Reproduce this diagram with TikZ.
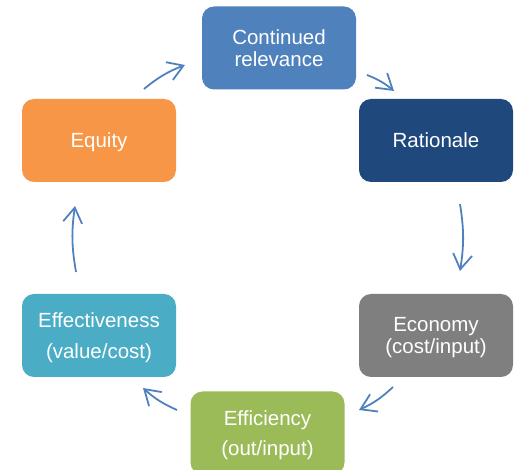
\documentclass[tikz,border=0pt]{standalone}
\usepackage{fontspec}
\setmainfont{Liberation Sans}
\usetikzlibrary{arrows.meta}
\definecolor{cRel}{HTML}{4F81BD}
\definecolor{cRat}{HTML}{1F497D}
\definecolor{cEco}{HTML}{7F7F7F}
\definecolor{cEffi}{HTML}{9BBB59}
\definecolor{cEffe}{HTML}{4BACC6}
\definecolor{cEqu}{HTML}{F79646}
\definecolor{cArr}{HTML}{4F81BD}
\tikzset{
  box/.style={rectangle, rounded corners=12pt, minimum width=154pt, minimum height=83pt,
    inner sep=0pt, text depth=0pt, text=white, align=center, font=\fontsize{20.5}{22.5}\selectfont},
  cyc/.style={draw=cArr, line width=1.8pt, -{Straight Barb[length=15pt,width=19pt,line width=1.8pt]}, bend left=9}
}
\begin{document}
\begin{tikzpicture}[x=1pt,y=-1pt]
\useasboundingbox (0,0) rectangle (515,470);
\clip (0,0) rectangle (515,470);
\node[box, fill=cRel] (rel) at (279,48) {Continued\\relevance};
\node[box, fill=cRat] (rat) at (436,140.5) {Rationale};
\node[box, fill=cEco] (eco) at (436,335.5) {Economy\\(cost/input)};
\node[box, fill=cEffi] (effi) at (267.5,433) {Efficiency\\[8pt](out/input)};
\node[box, fill=cEffe] (effe) at (99,335.5) {Effectiveness\\[8pt](value/cost)};
\node[box, fill=cEqu] (equ) at (99,140.5) {Equity};
\coordinate (a1s) at (144,89);  \coordinate (a1e) at (185,65);
\coordinate (a2s) at (367,75);  \coordinate (a2e) at (394,91);
\coordinate (a3s) at (460,204); \coordinate (a3e) at (460,271);
\coordinate (a4s) at (393,387); \coordinate (a4e) at (359,410);
\coordinate (a5s) at (177,410); \coordinate (a5e) at (143,388);
\coordinate (a6s) at (76,272);  \coordinate (a6e) at (75,206);
\draw[cyc] (a1s) to (a1e);
\draw[cyc] (a2s) to (a2e);
\draw[cyc] (a3s) to (a3e);
\draw[cyc] (a4s) to (a4e);
\draw[cyc] (a5s) to (a5e);
\draw[cyc] (a6s) to (a6e);
\end{tikzpicture}
\end{document}
